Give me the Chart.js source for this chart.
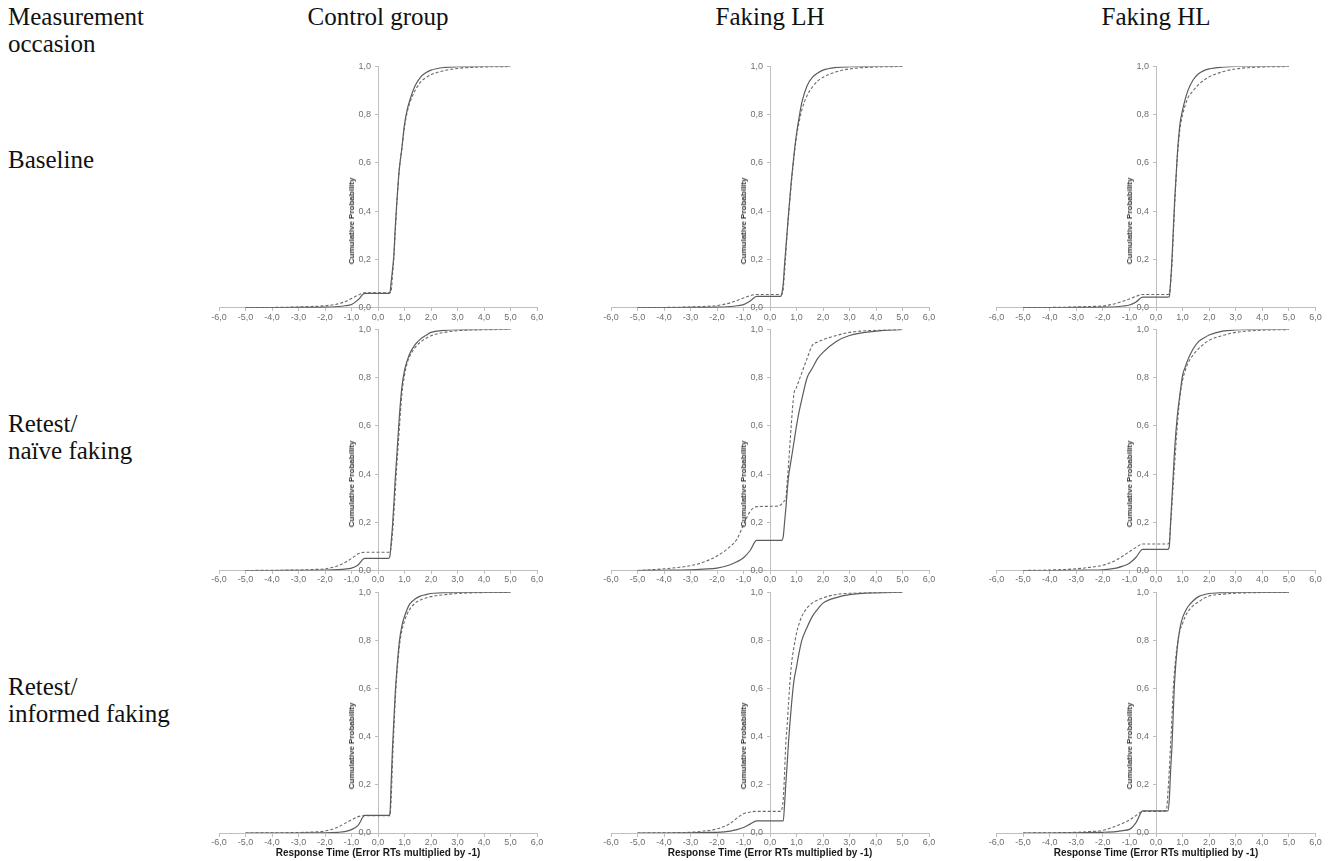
<!DOCTYPE html>
<html>
<head>
<meta charset="utf-8">
<script src="https://cdn.jsdelivr.net/npm/chart.js@4.4.1/dist/chart.umd.min.js"></script>
<style>
html,body{margin:0;padding:0;background:#fff;}
#root{position:relative;width:1333px;height:861px;overflow:hidden;background:#fff;}
.lbl{position:absolute;font-family:"Liberation Serif","Times New Roman",serif;font-size:25px;color:#111;line-height:27px;white-space:pre;}
.hdr{transform:translateX(-50%);}
.ytitle{position:absolute;font-family:"Liberation Sans",Arial,sans-serif;font-weight:bold;font-size:8px;line-height:10px;color:#333;white-space:nowrap;transform:translate(-50%,-50%) rotate(-90deg);}
canvas{position:absolute;}
</style>
</head>
<body>
<div id="root"></div>
<script>
// ---------------- data ----------------
const groups = ['Control group', 'Faking LH', 'Faking HL'];
const occasions = ['Baseline', 'Retest/\nnaïve faking', 'Retest/\ninformed faking'];
const cornerLabel = 'Measurement\noccasion';
const yAxisTitle = 'Cumulative Probability';
const xAxisTitle = 'Response Time (Error RTs multiplied by -1)';

const xTickValues = [-6, -5, -4, -3, -2, -1, 0, 1, 2, 3, 4, 5, 6];
const xTickLabels = ['-6,0', '-5,0', '-4,0', '-3,0', '-2,0', '-1,0', '0,0', '1,0', '2,0', '3,0', '4,0', '5,0', '6,0'];
const yTickValues = [0, 0.2, 0.4, 0.6, 0.8, 1.0];
const yTickLabels = ['0,0', '0,2', '0,4', '0,6', '0,8', '1,0'];

// response time grid (s); negative = error RTs
const X = [-5, -4, -3, -2.5, -2, -1.5, -1.25, -1, -0.75, -0.5, 0.3, 0.4, 0.45, 0.5, 0.55, 0.6, 0.65, 0.7, 0.8, 0.9, 1.0, 1.1, 1.2, 1.4, 1.6, 1.8, 2.0, 2.5, 3.0, 4.0, 5.0];

// Baseline
const ctrlBaseSolid  = [0,0,0.001,0.001,0.002,0.005,0.008,0.013,0.033,0.059,0.059,0.059,0.063,0.11,0.16,0.22,0.33,0.42,0.57,0.66,0.76,0.82,0.86,0.92,0.955,0.974,0.985,0.996,0.999,1,1];
const ctrlBaseDashed = [0,0.001,0.003,0.005,0.008,0.016,0.025,0.038,0.052,0.062,0.062,0.062,0.062,0.07,0.14,0.21,0.31,0.41,0.57,0.66,0.75,0.81,0.85,0.9,0.935,0.953,0.966,0.983,0.992,0.998,1];
const lhBaseSolid    = [0,0,0.001,0.001,0.002,0.005,0.008,0.013,0.028,0.047,0.047,0.047,0.06,0.1,0.18,0.25,0.32,0.39,0.52,0.63,0.72,0.79,0.85,0.92,0.955,0.973,0.985,0.996,0.999,1,1];
const lhBaseDashed   = [0,0.001,0.003,0.005,0.009,0.02,0.03,0.04,0.05,0.055,0.055,0.055,0.056,0.08,0.15,0.23,0.31,0.38,0.51,0.62,0.71,0.77,0.82,0.88,0.915,0.94,0.955,0.978,0.99,0.998,1];
const hlBaseSolid    = [0,0,0.001,0.001,0.002,0.004,0.007,0.011,0.024,0.044,0.044,0.044,0.044,0.046,0.11,0.2,0.32,0.44,0.63,0.76,0.82,0.865,0.9,0.945,0.97,0.983,0.99,0.997,1,1,1];
const hlBaseDashed   = [0,0.001,0.003,0.005,0.007,0.018,0.027,0.036,0.047,0.055,0.055,0.055,0.055,0.058,0.1,0.18,0.3,0.42,0.62,0.74,0.8,0.84,0.87,0.9,0.925,0.943,0.957,0.978,0.99,0.998,1];
// Retest / naive faking
const ctrlNaiveSolid  = [0,0,0.001,0.001,0.002,0.004,0.006,0.01,0.023,0.05,0.05,0.05,0.06,0.12,0.19,0.28,0.38,0.46,0.63,0.76,0.83,0.87,0.9,0.937,0.96,0.975,0.988,0.996,0.999,1,1];
const ctrlNaiveDashed = [0,0.001,0.002,0.004,0.007,0.02,0.033,0.05,0.069,0.076,0.076,0.076,0.076,0.1,0.16,0.24,0.33,0.42,0.58,0.73,0.81,0.86,0.89,0.925,0.948,0.963,0.974,0.988,0.995,0.999,1];
const lhNaiveSolid    = [0,0.001,0.003,0.006,0.01,0.024,0.036,0.053,0.083,0.125,0.125,0.125,0.126,0.14,0.2,0.26,0.33,0.39,0.46,0.53,0.6,0.66,0.71,0.8,0.84,0.88,0.905,0.95,0.975,0.993,1];
const lhNaiveDashed   = [0,0.007,0.02,0.035,0.06,0.1,0.13,0.19,0.245,0.265,0.267,0.272,0.277,0.283,0.29,0.3,0.37,0.44,0.6,0.73,0.76,0.79,0.82,0.88,0.935,0.948,0.958,0.975,0.988,0.997,1];
const hlNaiveSolid    = [0,0,0.001,0.002,0.003,0.01,0.018,0.03,0.055,0.088,0.088,0.088,0.088,0.1,0.2,0.3,0.4,0.5,0.64,0.73,0.81,0.845,0.875,0.92,0.95,0.965,0.977,0.993,0.998,1,1];
const hlNaiveDashed   = [0,0.002,0.007,0.013,0.022,0.043,0.06,0.078,0.096,0.11,0.11,0.11,0.11,0.12,0.19,0.27,0.36,0.44,0.6,0.72,0.79,0.83,0.86,0.895,0.92,0.94,0.955,0.975,0.988,0.997,1];
// Retest / informed faking
const ctrlInfSolid  = [0,0,0,0.001,0.001,0.003,0.006,0.014,0.032,0.073,0.073,0.073,0.08,0.22,0.36,0.47,0.58,0.66,0.79,0.86,0.9,0.93,0.952,0.972,0.984,0.99,0.995,0.999,1,1,1];
const ctrlInfDashed = [0,0.001,0.002,0.004,0.008,0.025,0.04,0.055,0.068,0.072,0.072,0.072,0.072,0.15,0.3,0.43,0.55,0.64,0.77,0.84,0.88,0.91,0.93,0.955,0.968,0.976,0.982,0.99,0.995,0.999,1];
const lhInfSolid    = [0,0,0.001,0.002,0.003,0.008,0.014,0.023,0.037,0.05,0.05,0.05,0.05,0.05,0.12,0.21,0.29,0.38,0.52,0.63,0.69,0.75,0.8,0.855,0.9,0.93,0.955,0.978,0.99,0.998,1];
const lhInfDashed   = [0,0.001,0.003,0.008,0.017,0.04,0.062,0.08,0.087,0.09,0.09,0.09,0.1,0.14,0.25,0.38,0.45,0.54,0.69,0.77,0.83,0.87,0.9,0.935,0.956,0.968,0.977,0.991,0.996,0.999,1];
const hlInfSolid    = [0,0,0.001,0.002,0.003,0.006,0.01,0.015,0.043,0.092,0.092,0.092,0.092,0.14,0.26,0.36,0.5,0.63,0.77,0.85,0.895,0.92,0.94,0.965,0.982,0.99,0.995,0.999,1,1,1];
const hlInfDashed   = [0,0.001,0.003,0.006,0.011,0.029,0.04,0.054,0.073,0.09,0.09,0.1,0.17,0.26,0.37,0.48,0.6,0.68,0.78,0.84,0.87,0.9,0.92,0.945,0.96,0.975,0.985,0.992,0.996,0.999,1];

const panelSeries = [
  [[ctrlBaseSolid, ctrlBaseDashed], [lhBaseSolid, lhBaseDashed], [hlBaseSolid, hlBaseDashed]],
  [[ctrlNaiveSolid, ctrlNaiveDashed], [lhNaiveSolid, lhNaiveDashed], [hlNaiveSolid, hlNaiveDashed]],
  [[ctrlInfSolid, ctrlInfDashed], [lhInfSolid, lhInfDashed], [hlInfSolid, hlInfDashed]]
];

// ---------------- layout ----------------
const colGeom = [{l: 219, r: 537}, {l: 611, r: 929}, {l: 996.5, r: 1315.5}];
const rowGeom = [{t: 66.5, b: 307.7}, {t: 329.5, b: 570.5}, {t: 592.3, b: 833}];
const yLabelGapPx = 7;

const root = document.getElementById('root');
function addDiv(cls, text, left, top) {
  const d = document.createElement('div');
  d.className = cls;
  d.textContent = text;
  d.style.left = left + 'px';
  d.style.top = top + 'px';
  root.appendChild(d);
  return d;
}

addDiv('lbl', cornerLabel, 8, 3);
groups.forEach((g, c) => {
  const zero = (colGeom[c].l + colGeom[c].r) / 2;
  addDiv('lbl hdr', g, zero, 3);
});
const rowLabelTops = [146, 410, 673];
occasions.forEach((o, r) => addDiv('lbl', o, 8, rowLabelTops[r]));

const SANS = '"Liberation Sans", Arial, sans-serif';
const axisGray = '#bfbfbf';
const tickGray = '#6f6f6f';

for (let r = 0; r < 3; r++) {
  for (let c = 0; c < 3; c++) {
    const cg = colGeom[c], rg = rowGeom[r];
    const cl = Math.floor(cg.l) - 26;
    const cr = Math.ceil(cg.r) + 26;
    const ct = Math.floor(rg.t) - 12;
    const cb = r === 2 ? 861 : Math.ceil(rg.b) + 18;
    const cv = document.createElement('canvas');
    cv.width = cr - cl; cv.height = cb - ct;
    cv.style.left = cl + 'px'; cv.style.top = ct + 'px';
    cv.style.width = (cr - cl) + 'px'; cv.style.height = (cb - ct) + 'px';
    root.appendChild(cv);

    const zero = (cg.l + cg.r) / 2;
    addDiv('ytitle', yAxisTitle, zero - 26, rg.t + 154);

    const pxPerUnit = (cg.r - cg.l) / 12;
    const labelAxisValue = -yLabelGapPx / pxPerUnit;

    const [solid, dashed] = panelSeries[r][c];
    new Chart(cv.getContext('2d'), {
      type: 'line',
      data: {
        datasets: [
          {label: 'Solid', xAxisID: 'x', yAxisID: 'y', data: X.map((x, i) => ({x, y: solid[i]})), borderColor: '#5c5c5c', borderWidth: 1.2, fill: false},
          {label: 'Dashed', xAxisID: 'x', yAxisID: 'y', data: X.map((x, i) => ({x, y: dashed[i]})), borderColor: '#6a6a6a', borderWidth: 1.1, borderDash: [3, 2], fill: false}
        ]
      },
      options: {
        responsive: false,
        animation: false,
        devicePixelRatio: 1,
        layout: {padding: {left: cg.l - cl, right: cr - cg.r, top: rg.t - ct, bottom: cb - rg.b}},
        plugins: {legend: {display: false}, tooltip: {enabled: false}, title: {display: false}},
        elements: {point: {radius: 0}, line: {cubicInterpolationMode: 'monotone'}},
        scales: {
          x: {
            type: 'linear', axis: 'x', min: -6, max: 6, position: {y: 0},
            afterBuildTicks: axis => { axis.ticks = xTickValues.map(v => ({value: v})); },
            ticks: {
              autoSkip: false, maxRotation: 0, padding: 1,
              callback: (v) => { const k = xTickValues.indexOf(v); return k >= 0 ? xTickLabels[k] : ''; },
              font: {family: SANS, size: 9}, color: tickGray
            },
            grid: {drawOnChartArea: false, drawTicks: true, tickLength: 3, color: axisGray},
            border: {display: true, color: axisGray, width: 1},
            title: {
              display: r === 2, text: xAxisTitle,
              font: {family: SANS, size: 10, weight: 'bold'}, color: '#1a1a1a',
              padding: {top: -2, bottom: 0}
            }
          },
          y: {
            type: 'linear', axis: 'y', min: 0, max: 1, position: {x: 0},
            afterBuildTicks: axis => { axis.ticks = yTickValues.map(v => ({value: v})); },
            ticks: {display: false},
            grid: {drawOnChartArea: false, drawTicks: true, tickLength: 3, color: axisGray},
            border: {display: true, color: axisGray, width: 1}
          },
          yLabels: {
            type: 'linear', axis: 'y', min: 0, max: 1, position: {x: labelAxisValue},
            afterBuildTicks: axis => { axis.ticks = yTickValues.map(v => ({value: v})); },
            ticks: {
              callback: (v) => { const k = yTickValues.findIndex(t => Math.abs(t - v) < 1e-9); return k >= 0 ? yTickLabels[k] : ''; },
              font: {family: SANS, size: 9}, color: tickGray
            },
            grid: {display: false},
            border: {display: false}
          }
        }
      }
    });
  }
}
</script>
</body>
</html>
